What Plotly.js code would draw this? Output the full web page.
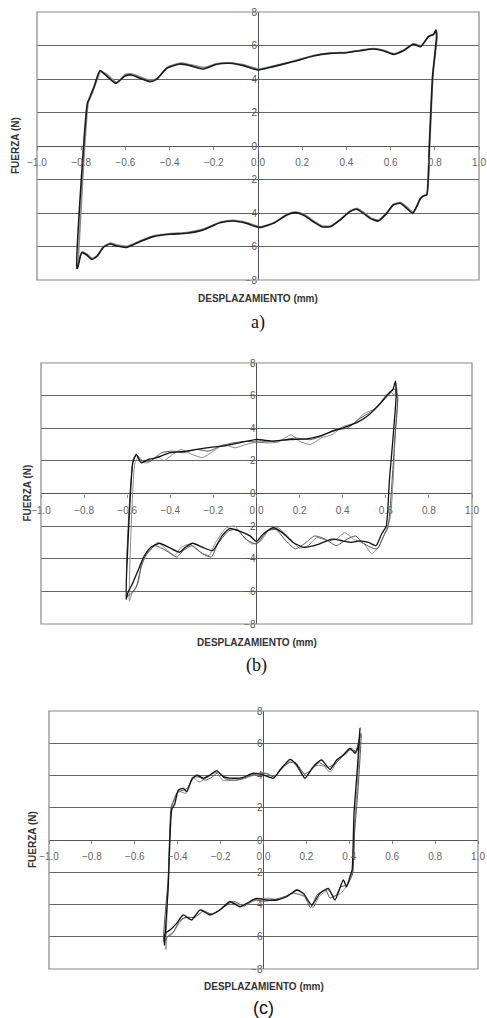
<!DOCTYPE html>
<html>
<head>
<meta charset="utf-8">
<script src="https://cdn.plot.ly/plotly-3.0.1.min.js"></script>
<style>html,body{margin:0;padding:0;background:#fff;}#chart{width:487px;height:1018px;}</style>
</head>
<body>
<div id="chart"></div>
<script>
// ---------- DATA ----------
var xTickVals = [-1.0,-0.8,-0.6,-0.4,-0.2,0.0,0.2,0.4,0.6,0.8,1.0];
var yTickVals = [-8,-6,-4,-2,0,2,4,6,8];
var xTitle = "DESPLAZAMIENTO (mm)";
var yTitle = "FUERZA (N)";
var panelLabels = ["a)", "(b)", "(c)"];

// Panel a
var aX1 = [-0.82,-0.772,-0.76,-0.742,-0.715,-0.69,-0.643,-0.602,-0.572,-0.534,-0.489,-0.459,-0.413,-0.353,-0.308,-0.247,-0.187,-0.127,-0.066,0.0,0.069,0.16,0.25,0.326,0.401,0.462,0.522,0.567,0.612,0.658,0.703,0.736,0.771,0.794,0.805,0.808,0.79,0.775,0.763,0.748,0.733,0.718,0.70,0.673,0.643,0.612,0.582,0.544,0.507,0.477,0.447,0.416,0.371,0.326,0.288,0.25,0.205,0.167,0.13,0.069,0.009,-0.051,-0.112,-0.172,-0.248,-0.323,-0.398,-0.474,-0.534,-0.594,-0.639,-0.670,-0.70,-0.73,-0.753,-0.775,-0.798,-0.817,-0.82];
var aY1 = [-7.3,2.55,2.94,3.54,4.5,4.24,3.74,4.18,4.24,4.04,3.84,3.98,4.64,4.9,4.8,4.6,4.88,4.94,4.8,4.54,4.74,5.04,5.37,5.53,5.57,5.69,5.79,5.69,5.47,5.69,6.07,5.93,6.53,6.65,6.93,6.53,4.2,0.0,-2.93,-2.99,-3.18,-3.62,-4.02,-3.72,-3.42,-3.52,-4.02,-4.48,-4.32,-4.02,-3.78,-3.92,-4.42,-4.82,-4.82,-4.52,-4.12,-3.98,-4.12,-4.62,-4.87,-4.62,-4.48,-4.58,-5.01,-5.21,-5.27,-5.41,-5.71,-6.05,-5.97,-5.85,-6.05,-6.61,-6.77,-6.51,-6.37,-7.30,-7.3];
var aX2 = [-0.815,-0.768,-0.755,-0.738,-0.712,-0.686,-0.64,-0.598,-0.568,-0.53,-0.485,-0.455,-0.41,-0.35,-0.305,-0.245,-0.185,-0.125,-0.064,0.002,0.07,0.162,0.252,0.328,0.403,0.464,0.524,0.569,0.614,0.66,0.705,0.738,0.772,0.796,0.806,0.81,0.792,0.777,0.765,0.75,0.735,0.72,0.702,0.675,0.645,0.614,0.584,0.546,0.509,0.479,0.449,0.418,0.373,0.328,0.29,0.252,0.207,0.169,0.132,0.071,0.011,-0.049,-0.11,-0.17,-0.246,-0.321,-0.396,-0.472,-0.532,-0.592,-0.637,-0.668,-0.698,-0.728,-0.751,-0.773,-0.796,-0.815,-0.815];
var aY2 = [-7.2,2.6,3.0,3.6,4.45,4.3,3.8,4.28,4.3,4.1,3.92,4.05,4.7,4.95,4.85,4.68,4.92,4.97,4.85,4.6,4.78,5.08,5.4,5.55,5.6,5.72,5.82,5.72,5.52,5.74,6.1,5.98,6.55,6.7,6.85,6.5,4.25,0.05,-2.88,-2.95,-3.12,-3.56,-3.96,-3.66,-3.38,-3.48,-3.96,-4.42,-4.28,-3.98,-3.74,-3.88,-4.38,-4.78,-4.78,-4.48,-4.08,-3.94,-4.08,-4.58,-4.82,-4.58,-4.44,-4.54,-4.96,-5.16,-5.22,-5.36,-5.66,-5.98,-5.92,-5.8,-6.0,-6.55,-6.72,-6.46,-6.32,-7.2,-7.2];

// Panel b
var bX1 = [-0.605,-0.574,-0.558,-0.535,-0.504,-0.465,-0.404,-0.326,-0.233,-0.141,-0.079,0.0,0.076,0.153,0.231,0.292,0.354,0.416,0.478,0.524,0.571,0.602,0.617,0.633,0.645,0.648,0.633,0.617,0.602,0.58,0.555,0.52,0.48,0.44,0.40,0.35,0.29,0.22,0.17,0.12,0.076,0.03,0.0,-0.03,-0.079,-0.125,-0.16,-0.203,-0.25,-0.296,-0.33,-0.357,-0.40,-0.45,-0.49,-0.52,-0.543,-0.574,-0.597,-0.605];
var bY1 = [-6.5,1.88,2.39,1.88,2.08,2.19,2.49,2.6,2.8,2.94,3.11,3.31,3.21,3.31,3.35,3.52,3.82,4.09,4.44,4.85,5.46,5.97,6.18,6.38,6.89,5.97,3.31,0.86,-2.0,-2.5,-3.2,-3.0,-2.9,-3.0,-2.9,-2.8,-3.1,-3.3,-3.0,-2.4,-2.1,-2.5,-2.95,-2.6,-2.3,-2.15,-2.6,-3.5,-3.3,-3.05,-3.3,-3.6,-3.35,-3.05,-3.3,-3.8,-4.5,-5.48,-6.09,-6.5];
var bX2 = [-0.59,-0.565,-0.55,-0.53,-0.5,-0.46,-0.43,-0.4,-0.35,-0.3,-0.25,-0.2,-0.15,-0.1,-0.05,0.0,0.05,0.1,0.16,0.2,0.25,0.3,0.35,0.4,0.45,0.5,0.55,0.6,0.625,0.64,0.65,0.655,0.645,0.635,0.625,0.62,0.6,0.57,0.535,0.5,0.45,0.41,0.37,0.33,0.28,0.24,0.2,0.15,0.1,0.06,0.02,-0.02,-0.07,-0.1,-0.14,-0.19,-0.22,-0.26,-0.31,-0.35,-0.38,-0.42,-0.46,-0.5,-0.53,-0.55,-0.58,-0.59];
var bY2 = [-6.6,1.8,2.2,1.9,1.9,2.3,2.0,2.3,2.7,2.4,2.2,2.6,3.0,2.8,3.0,3.15,3.1,3.15,3.6,3.2,3.0,3.4,3.6,4.1,4.3,4.9,5.2,6.0,6.2,6.0,6.5,5.8,4.0,1.0,-1.0,-1.5,-2.3,-3.2,-3.7,-3.1,-2.8,-2.4,-2.8,-2.9,-2.7,-3.2,-3.35,-2.7,-2.1,-2.2,-2.9,-3.1,-2.5,-2.0,-2.1,-3.0,-3.8,-3.6,-3.1,-3.3,-3.8,-3.4,-3.0,-3.6,-4.1,-5.5,-6.2,-6.6];
var bX3 = [-0.6,-0.57,-0.555,-0.53,-0.49,-0.44,-0.39,-0.34,-0.28,-0.22,-0.17,-0.11,-0.05,0.0,0.07,0.13,0.18,0.25,0.3,0.36,0.42,0.48,0.53,0.58,0.61,0.64,0.655,0.64,0.625,0.61,0.59,0.56,0.53,0.49,0.46,0.42,0.37,0.32,0.27,0.22,0.18,0.13,0.09,0.05,0.0,-0.05,-0.09,-0.13,-0.18,-0.21,-0.25,-0.3,-0.34,-0.37,-0.42,-0.47,-0.51,-0.535,-0.56,-0.6];
var bY3 = [-6.3,2.2,2.35,2.0,2.0,2.5,2.6,2.5,2.7,2.6,2.9,3.1,3.2,3.15,3.2,3.3,3.4,3.3,3.5,3.9,4.0,4.6,5.0,5.6,6.0,6.4,6.0,3.0,0.0,-2.1,-2.6,-3.4,-3.3,-3.0,-2.6,-2.8,-3.2,-2.8,-2.6,-3.1,-3.4,-2.8,-2.2,-2.3,-3.1,-2.8,-2.2,-2.3,-3.1,-3.9,-3.7,-3.2,-3.5,-3.9,-3.5,-3.2,-3.7,-4.5,-5.8,-6.3];

// Panel c
var cX1 = [-0.462,-0.444,-0.428,-0.413,-0.397,-0.374,-0.358,-0.335,-0.311,-0.281,-0.249,-0.218,-0.187,-0.141,-0.094,-0.048,0.0,0.046,0.077,0.124,0.155,0.193,0.232,0.271,0.31,0.341,0.372,0.403,0.427,0.442,0.45,0.437,0.422,0.413,0.403,0.388,0.372,0.333,0.302,0.263,0.225,0.186,0.155,0.108,0.062,0.015,-0.032,-0.078,-0.11,-0.156,-0.203,-0.249,-0.296,-0.335,-0.374,-0.405,-0.436,-0.459,-0.462];
var cY1 = [-6.51,-2.9,1.86,2.27,3.1,3.2,3.0,3.72,4.03,3.83,4.03,4.3,3.93,3.83,3.89,4.14,4.03,3.83,4.34,5.0,4.65,3.83,4.55,4.96,4.38,4.96,5.27,5.69,5.38,5.79,6.93,4.34,1.66,-1.86,-2.27,-2.9,-2.48,-3.72,-3.0,-3.31,-4.03,-3.31,-3.1,-3.52,-3.72,-3.72,-3.62,-3.93,-4.14,-3.83,-4.34,-4.65,-4.34,-4.96,-4.65,-5.17,-5.58,-5.79,-6.51];
var cX2 = [-0.455,-0.44,-0.43,-0.41,-0.39,-0.36,-0.33,-0.3,-0.26,-0.22,-0.19,-0.14,-0.09,-0.05,0.0,0.05,0.09,0.13,0.17,0.2,0.24,0.28,0.31,0.35,0.39,0.41,0.43,0.445,0.45,0.44,0.425,0.415,0.395,0.38,0.36,0.33,0.3,0.26,0.23,0.2,0.16,0.12,0.07,0.02,-0.03,-0.08,-0.12,-0.16,-0.21,-0.25,-0.29,-0.33,-0.37,-0.4,-0.43,-0.45,-0.455];
var cY2 = [-6.8,-1.0,1.9,2.8,3.0,2.9,3.9,3.6,3.9,4.2,3.7,3.7,3.8,4.0,4.2,3.9,4.6,4.9,4.3,4.0,4.6,4.6,4.2,5.0,5.4,5.7,5.5,6.0,6.5,4.0,1.0,-2.0,-2.6,-3.0,-3.3,-3.5,-3.1,-3.5,-4.2,-3.6,-3.1,-3.4,-3.7,-3.6,-3.7,-4.0,-4.0,-3.8,-4.4,-4.6,-4.3,-4.8,-4.8,-5.3,-5.9,-6.0,-6.8];
var cX3 = [-0.465,-0.445,-0.43,-0.415,-0.4,-0.37,-0.35,-0.33,-0.3,-0.27,-0.24,-0.21,-0.18,-0.13,-0.08,-0.04,0.02,0.05,0.09,0.12,0.15,0.19,0.22,0.26,0.3,0.34,0.37,0.4,0.43,0.445,0.455,0.44,0.425,0.415,0.39,0.36,0.34,0.31,0.29,0.25,0.22,0.19,0.14,0.1,0.05,0.0,-0.05,-0.09,-0.14,-0.19,-0.24,-0.28,-0.32,-0.36,-0.39,-0.42,-0.44,-0.465];
var cY3 = [-6.3,-2.5,2.1,2.5,3.0,3.1,3.3,3.9,3.9,3.7,3.9,4.2,3.8,3.7,3.9,4.1,4.1,3.9,4.5,4.8,4.8,4.1,4.3,4.8,4.5,4.8,5.2,5.6,5.5,6.2,6.6,3.0,0.5,-2.1,-2.8,-2.9,-3.4,-3.6,-3.1,-3.4,-4.2,-3.5,-3.3,-3.5,-3.7,-3.8,-3.7,-4.1,-3.8,-4.2,-4.6,-4.4,-4.8,-4.8,-5.0,-5.7,-5.9,-6.3];

// ---------- LAYOUT ----------
var W = 487, H = 1018;
// plot boxes in pixels [left, right, top, bottom]
var boxes = [[37,479,12,280],[41,472,363,624],[49,478,711,969]];
var xTitlePos = [298, 642, 986];
var yTitleX = [15, 27, 32];
var labelPos = [322, 665, 1008];
var labelFonts = ['Liberation Serif, Times New Roman, serif', 'Liberation Serif, Times New Roman, serif', 'Liberation Sans, Arial, sans-serif'];

var font = "Liberation Sans, Arial, sans-serif";
var traces = [];
function line(x, y, ax, color, width) {
  traces.push({x: x, y: y, xaxis: ax[0], yaxis: ax[1], type: 'scatter', mode: 'lines',
    line: {color: color, width: width, shape: 'spline', smoothing: 0.5}, hoverinfo: 'skip', showlegend: false});
}
line(aX2, aY2, ['x','y'], '#8a8a8a', 1.6);
line(aX1, aY1, ['x','y'], '#1a1a1a', 1.6);
line(bX2, bY2, ['x2','y2'], '#8a8a8a', 1);
line(bX3, bY3, ['x2','y2'], '#555555', 1);
line(bX1, bY1, ['x2','y2'], '#111111', 1.3);
line(cX2, cY2, ['x3','y3'], '#8a8a8a', 1);
line(cX3, cY3, ['x3','y3'], '#555555', 1);
line(cX1, cY1, ['x3','y3'], '#111111', 1.3);

var layout = {
  width: W, height: H, margin: {l:0, r:0, t:0, b:0},
  paper_bgcolor: '#fff', plot_bgcolor: '#fff', showlegend: false,
  shapes: [], annotations: []
};
boxes.forEach(function(b, i) {
  var sfx = i === 0 ? '' : String(i + 1);
  var xd = [b[0]/W, b[1]/W];
  var yd = [1 - b[3]/H, 1 - b[2]/H];
  layout['xaxis' + sfx] = {
    domain: xd, range: [-1, 1], anchor: 'free', position: (yd[0] + yd[1]) / 2,
    tickvals: xTickVals, tickformat: '.1f', showgrid: false,
    zeroline: true, zerolinecolor: '#555', zerolinewidth: 1,
    showline: false, ticks: 'outside', ticklen: 3, tickcolor: '#888', ticklabelstandoff: 4,
    tickfont: {family: font, size: 10, color: '#666'}, fixedrange: true
  };
  layout['yaxis' + sfx] = {
    domain: yd, range: [-8, 8], anchor: 'free', position: (xd[0] + xd[1]) / 2,
    tickvals: yTickVals, showgrid: true, gridcolor: '#666', gridwidth: 1,
    zeroline: true, zerolinecolor: '#555', zerolinewidth: 1,
    showline: false, ticks: '', ticklabelstandoff: 1,
    tickfont: {family: font, size: 10, color: '#555'}, fixedrange: true
  };
  layout.shapes.push({type: 'rect', xref: 'x' + sfx + ' domain', yref: 'y' + sfx + ' domain',
    x0: 0, x1: 1, y0: 0, y1: 1, line: {color: '#888', width: 1.2}, layer: 'above'});
  var cx = (xd[0] + xd[1]) / 2;
  layout.annotations.push({text: '<b>' + xTitle + '</b>', xref: 'paper', yref: 'paper',
    x: cx, y: 1 - xTitlePos[i]/H, showarrow: false, xanchor: 'center', yanchor: 'middle',
    font: {family: font, size: 10, color: '#333'}});
  layout.annotations.push({text: '<b>' + yTitle + '</b>', xref: 'paper', yref: 'paper',
    x: yTitleX[i]/W, y: (yd[0] + yd[1]) / 2, showarrow: false, textangle: -90,
    xanchor: 'center', yanchor: 'middle', font: {family: font, size: 10, color: '#333'}});
  layout.annotations.push({text: panelLabels[i], xref: 'paper', yref: 'paper',
    x: cx, y: 1 - labelPos[i]/H, showarrow: false, xanchor: 'center', yanchor: 'middle',
    font: {family: labelFonts[i], size: 18, color: '#111'}});
});

Plotly.newPlot('chart', traces, layout, {staticPlot: true, displayModeBar: false});
</script>
</body>
</html>
